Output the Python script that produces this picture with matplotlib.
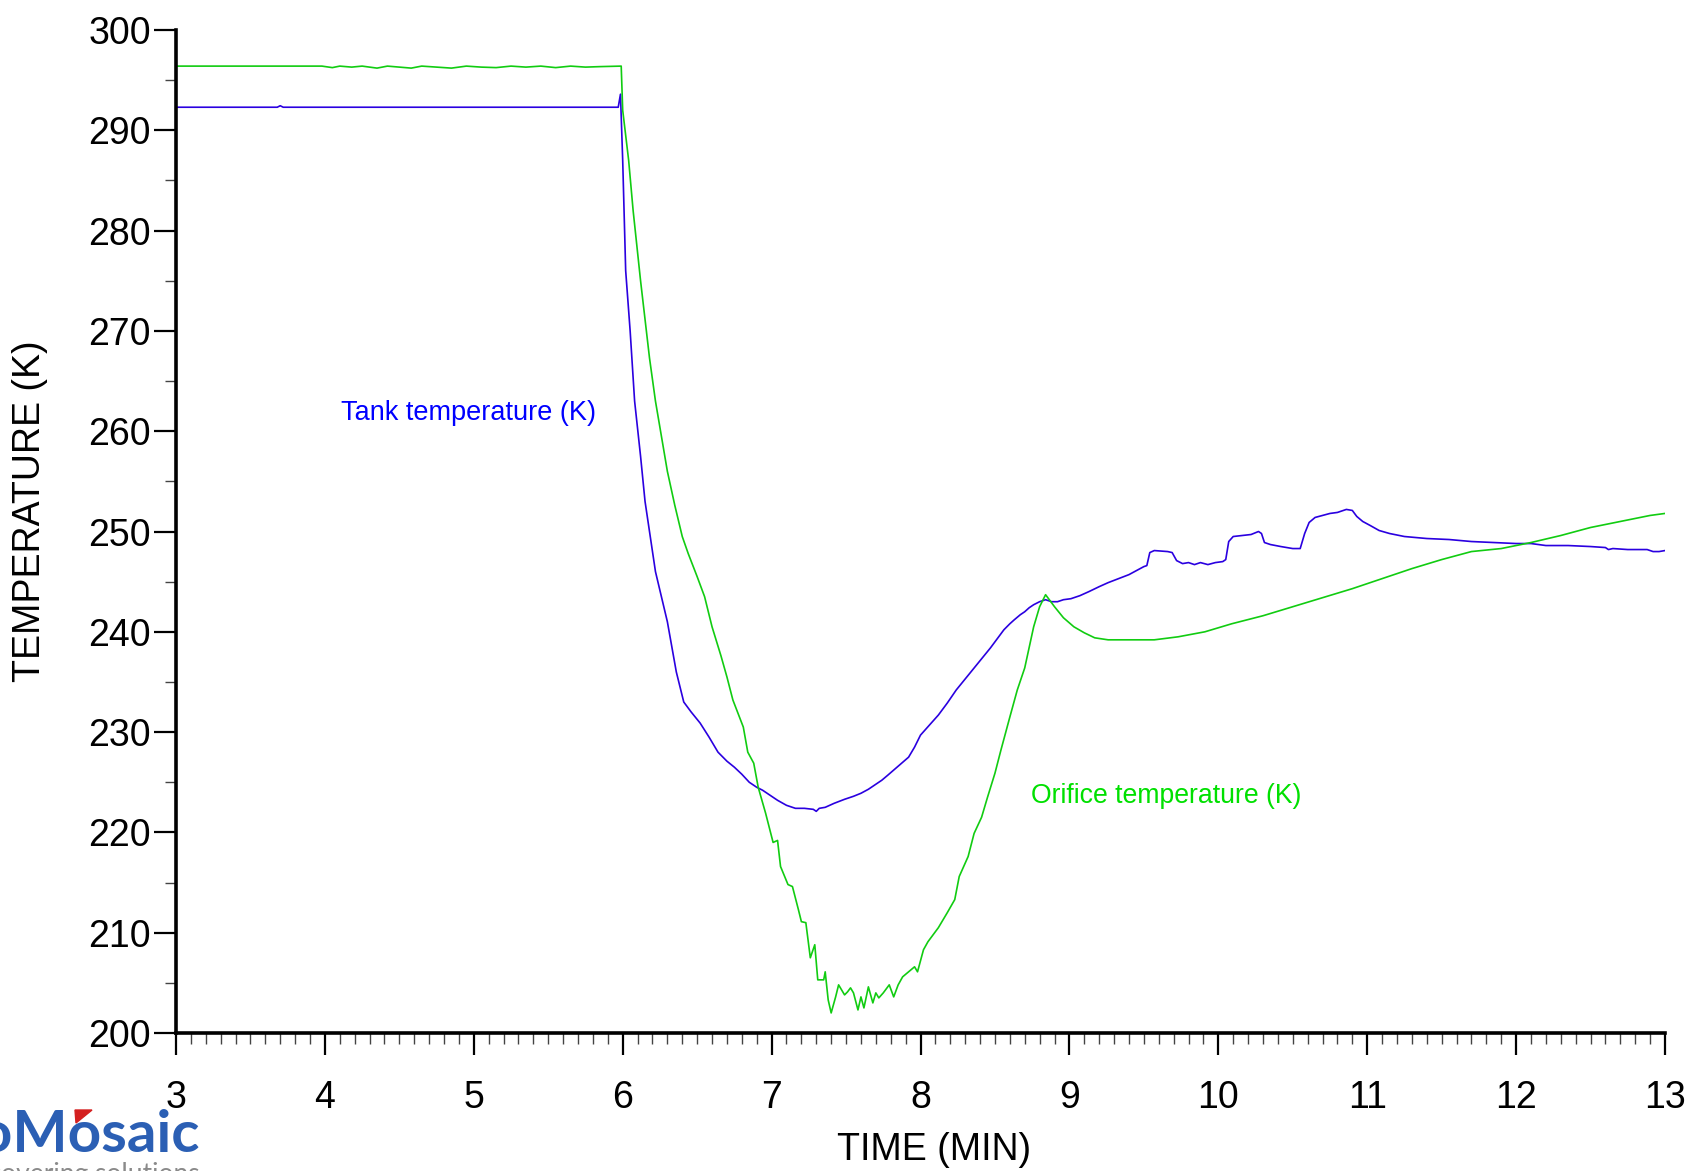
import matplotlib
matplotlib.use("Agg")
import matplotlib.pyplot as plt
from matplotlib.patches import Polygon
from matplotlib.ticker import MultipleLocator

plt.rcParams['font.family'] = ['Liberation Sans', 'DejaVu Sans']

# Tank temperature (blue)
tank_time = [3.00, 3.68, 3.70, 3.72, 5.97, 5.985, 6.00, 6.02, 6.05, 6.08, 6.12, 6.15,
             6.19, 6.22, 6.26, 6.30, 6.33, 6.36, 6.41, 6.46, 6.52, 6.58, 6.64, 6.70,
             6.75, 6.80, 6.85, 6.90, 6.94, 6.99, 7.04, 7.10, 7.16, 7.22, 7.28, 7.30,
             7.32, 7.36, 7.42, 7.49, 7.55, 7.60, 7.65, 7.69, 7.74, 7.78, 7.85, 7.92,
             7.96, 8.00, 8.06, 8.12, 8.18, 8.24, 8.30, 8.36, 8.42, 8.47, 8.52, 8.56,
             8.60, 8.63, 8.67, 8.70, 8.73, 8.76, 8.80, 8.84, 8.88, 8.92, 8.96, 9.01,
             9.07, 9.13, 9.20, 9.26, 9.33, 9.40, 9.45, 9.50, 9.52, 9.54, 9.57, 9.66,
             9.69, 9.72, 9.76, 9.80, 9.84, 9.88, 9.93, 9.98, 10.03, 10.05, 10.07, 10.10,
             10.16, 10.22, 10.27, 10.29, 10.31, 10.35, 10.42, 10.50, 10.55, 10.58, 10.61,
             10.65, 10.70, 10.75, 10.80, 10.86, 10.90, 10.93, 10.97, 11.02, 11.08, 11.15,
             11.25, 11.40, 11.55, 11.70, 11.85, 12.00, 12.10, 12.20, 12.35, 12.50, 12.60,
             12.62, 12.65, 12.75, 12.88, 12.92, 12.96, 13.00]
tank_temp = [292.3, 292.3, 292.45, 292.3, 292.3, 293.6, 287.0, 276.0, 270.0, 263.0, 257.5, 253.0,
             249.0, 246.0, 243.5, 241.0, 238.5, 236.0, 233.0, 232.0, 230.9, 229.5, 228.0, 227.1,
             226.5, 225.8, 225.0, 224.5, 224.2, 223.7, 223.2, 222.7, 222.4, 222.4, 222.3, 222.1,
             222.4, 222.5, 222.9, 223.3, 223.6, 223.9, 224.3, 224.7, 225.2, 225.7, 226.6, 227.5,
             228.5, 229.7, 230.7, 231.7, 232.9, 234.2, 235.3, 236.4, 237.5, 238.4, 239.4, 240.2,
             240.8, 241.2, 241.7, 242.0, 242.4, 242.7, 243.0, 243.2, 243.0, 243.0, 243.2, 243.3,
             243.6, 244.0, 244.5, 244.9, 245.3, 245.7, 246.1, 246.5, 246.6, 247.9, 248.1, 248.0,
             247.9, 247.1, 246.8, 246.9, 246.7, 246.9, 246.7, 246.9, 247.0, 247.2, 249.0, 249.5,
             249.6, 249.7, 250.0, 249.8, 248.9, 248.7, 248.5, 248.3, 248.3, 249.8, 250.9,
             251.4, 251.6, 251.8, 251.9, 252.2, 252.1, 251.5, 251.0, 250.6, 250.1, 249.8,
             249.5, 249.3, 249.2, 249.0, 248.9, 248.8, 248.8, 248.6, 248.6, 248.5, 248.4,
             248.2, 248.3, 248.2, 248.2, 248.0, 248.0, 248.1]

# Orifice temperature (green)
orifice_time = [3.00, 3.98, 4.05, 4.10, 4.18, 4.25, 4.35, 4.42, 4.50, 4.58, 4.65, 4.75,
                4.85, 4.95, 5.05, 5.15, 5.25, 5.35, 5.45, 5.55, 5.65, 5.75, 5.85, 5.99,
                6.00, 6.04, 6.07, 6.12, 6.18, 6.22, 6.26, 6.30, 6.35, 6.40, 6.44, 6.50,
                6.55, 6.60, 6.66, 6.70, 6.74, 6.81, 6.84, 6.88, 6.91, 6.96, 7.01, 7.04,
                7.06, 7.11, 7.14, 7.18, 7.20, 7.23, 7.26, 7.29, 7.31, 7.35, 7.36, 7.38,
                7.40, 7.43, 7.45, 7.49, 7.51, 7.53, 7.55, 7.58, 7.60, 7.62, 7.65, 7.68,
                7.70, 7.72, 7.75, 7.79, 7.82, 7.85, 7.88, 7.92, 7.96, 7.98, 8.02, 8.05,
                8.12, 8.18, 8.23, 8.26, 8.32, 8.36, 8.41, 8.45, 8.50, 8.54, 8.60, 8.65,
                8.70, 8.76, 8.80, 8.84, 8.90, 8.96, 9.03, 9.10, 9.17, 9.26, 9.57, 9.73,
                9.91, 10.09, 10.30, 10.50, 10.70, 10.90, 11.10, 11.30, 11.50, 11.70, 11.90,
                12.10, 12.30, 12.50, 12.70, 12.90, 13.00]
orifice_temp = [296.4, 296.4, 296.25, 296.4, 296.3, 296.4, 296.2, 296.4, 296.3, 296.2, 296.4, 296.3,
                296.2, 296.4, 296.3, 296.25, 296.4, 296.3, 296.4, 296.25, 296.4, 296.3, 296.35, 296.4,
                292.0, 287.0, 282.0, 275.0, 267.3, 263.0, 259.5, 256.0, 252.6, 249.5, 247.8, 245.5,
                243.5, 240.5, 237.6, 235.5, 233.2, 230.5, 228.0, 226.9, 224.5, 221.9, 219.0, 219.2,
                216.6, 214.8, 214.6, 212.3, 211.1, 211.0, 207.5, 208.8, 205.3, 205.3, 206.1, 203.3,
                202.0, 203.6, 204.8, 203.8, 204.1, 204.5, 204.0, 202.3, 203.6, 202.5, 204.6, 203.0,
                204.0, 203.5, 204.0, 204.8, 203.6, 204.8, 205.6, 206.1, 206.6, 206.1, 208.3, 209.1,
                210.5, 212.0, 213.3, 215.6, 217.6, 219.9, 221.5, 223.5, 225.9, 228.2, 231.5, 234.2,
                236.4, 240.5, 242.5, 243.7, 242.5, 241.4, 240.5, 239.9, 239.4, 239.2, 239.2, 239.5,
                240.0, 240.8, 241.6, 242.5, 243.4, 244.3, 245.3, 246.3, 247.2, 248.0, 248.3,
                248.9, 249.6, 250.4, 251.0, 251.6, 251.8]

W, H = 1686, 1171
fig = plt.figure(figsize=(W / 100, H / 100), dpi=100)
ax = fig.add_axes([176 / W, 1 - 1033 / H, (1665 - 176) / W, (1033 - 30) / H])

ax.plot(tank_time, tank_temp, color='#2a00e0', lw=1.2)
ax.plot(orifice_time, orifice_temp, color='#11cc11', lw=1.2)

ax.set_xlim(3, 13)
ax.set_ylim(200, 300)
ax.xaxis.set_major_locator(MultipleLocator(1))
ax.xaxis.set_minor_locator(MultipleLocator(0.1))
ax.yaxis.set_major_locator(MultipleLocator(10))
ax.yaxis.set_minor_locator(MultipleLocator(5))

for side in ['top', 'right']:
    ax.spines[side].set_visible(False)
for side in ['left', 'bottom']:
    ax.spines[side].set_linewidth(2.6)

ax.tick_params(axis='both', which='major', length=16, width=1.6, labelsize=27)
ax.tick_params(axis='both', which='minor', length=8, width=1.0, color='#444444')
ax.tick_params(axis='x', which='major', pad=18)
ax.tick_params(axis='y', which='major', pad=2)

ax.set_xlabel('TIME (MIN)', fontsize=27)
ax.xaxis.set_label_coords(0.509, -0.117)
ax.xaxis.label.set_va('center')
ax.set_ylabel('TEMPERATURE (K)', fontsize=27)
ax.yaxis.set_label_coords(-0.098, 0.520)
ax.yaxis.label.set_va('center')

ax.text(4.11, 261.1, 'Tank temperature (K)', color='#0000ff', fontsize=19.5, va='baseline')
ax.text(8.74, 222.9, 'Orifice temperature (K)', color='#00e000', fontsize=19.2, va='baseline')

# logo in the lower-left corner (cut off by the figure edge, as in the source)
fig.text(200 / W, 1 - 1152 / H, 'bioMosaic', ha='right', va='baseline',
         fontsize=42, color='#2b5fb4', fontweight='bold', family='Lato')
fig.text(200 / W, 1 - 1162 / H, 'discovering solutions', ha='right', va='top',
         fontsize=19, color='#8a8a8a', family='Lato')
tri = Polygon([(75 / W, 1 - 1110 / H), (92 / W, 1 - 1110 / H), (76 / W, 1 - 1123 / H)],
              closed=True, transform=fig.transFigure, color='#d42020')
fig.patches.append(tri)

fig.savefig('out.png', dpi=100)
